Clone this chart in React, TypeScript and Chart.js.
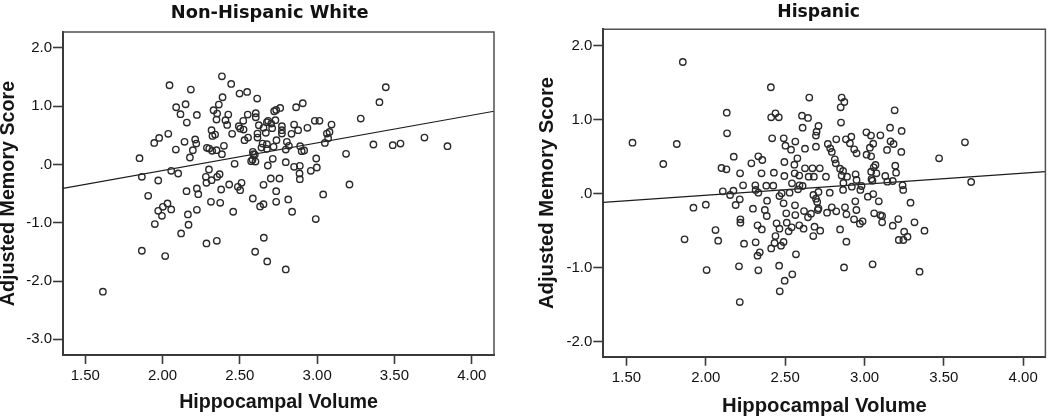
import React, { useEffect, useRef } from 'react';
import { Chart, registerables } from 'chart.js';

Chart.register(...registerables);

// ---------- DATA ----------
const panelTitles = ['Non-Hispanic White', 'Hispanic'];
const xAxisTitle = 'Hippocampal Volume';
const yAxisTitle = 'Adjusted Memory Score';

const xTickValues = [1.5, 2, 2.5, 3, 3.5, 4];
const xTickLabels = ['1.50', '2.00', '2.50', '3.00', '3.50', '4.00'];
const leftYTickValues = [-3, -2, -1, 0, 1, 2];
const leftYTickLabels = ['-3.0', '-2.0', '-1.0', '.0', '1.0', '2.0'];
const rightYTickValues = [-2, -1, 0, 1, 2];
const rightYTickLabels = ['-2.0', '-1.0', '.0', '1.0', '2.0'];

// Non-Hispanic White
const whiteVolume = [
  2.384, 2.444, 2.045, 3.444, 2.183, 2.547, 2.498, 2.612, 2.388, 3.403,
  2.907, 2.149, 2.364, 2.088, 2.864, 2.761, 2.735, 2.330, 2.722, 2.116,
  2.222, 2.353, 2.425, 2.551, 2.603, 2.603, 3.282, 3.015, 2.985, 2.349,
  2.407, 2.157, 2.522, 2.683, 2.730, 2.703, 2.675, 2.418, 2.493, 2.502,
  2.623, 2.653, 2.709, 2.772, 2.851, 3.093, 2.937, 2.317, 2.877, 2.524,
  2.772, 2.772, 2.668, 2.614, 2.450, 2.037, 3.063, 3.080, 2.834, 2.323,
  2.340, 2.553, 2.614, 1.978, 1.946, 2.211, 2.530, 2.737, 3.071, 3.694,
  2.142, 2.218, 2.647, 2.804, 3.050, 3.364, 3.489, 3.539, 3.843, 2.397,
  2.287, 2.302, 2.196, 2.086, 2.349, 2.321, 2.640, 2.675, 2.675, 2.718,
  2.817, 2.797, 2.890, 2.900, 2.916, 2.584, 2.588, 2.597, 2.384, 2.177,
  3.187, 2.994, 1.851, 2.713, 2.582, 2.601, 2.797, 2.466, 2.681, 2.851,
  2.888, 2.998, 2.300, 2.959, 2.056, 2.101, 2.886, 1.866, 2.280, 2.369,
  2.353, 1.972, 2.317, 2.700, 2.756, 2.888, 2.284, 2.431, 2.511, 2.487,
  3.209, 2.653, 2.502, 2.379, 2.155, 2.222, 2.231, 2.735, 1.907, 3.039,
  2.584, 2.813, 2.313, 2.373, 2.032, 2.735, 2.653, 2.631, 2.002, 2.056,
  1.972, 2.222, 2.457, 2.838, 2.164, 1.996, 2.991, 1.950, 2.168, 2.120,
  2.655, 2.351, 2.284, 1.866, 2.599, 2.017, 2.677, 2.797, 1.614, 2.573
];
const whiteMemory = [
  1.514, 1.383, 1.360, 1.326, 1.286, 1.246, 1.217, 1.131, 1.154, 1.069,
  1.051, 1.034, 1.029, 0.983, 0.983, 0.971, 0.937, 0.931, 0.914, 0.863,
  0.851, 0.874, 0.857, 0.857, 0.880, 0.811, 0.789, 0.749, 0.749, 0.771,
  0.760, 0.720, 0.749, 0.749, 0.760, 0.703, 0.726, 0.680, 0.657, 0.617,
  0.674, 0.629, 0.623, 0.657, 0.686, 0.686, 0.629, 0.589, 0.589, 0.600,
  0.589, 0.531, 0.543, 0.531, 0.526, 0.526, 0.531, 0.560, 0.526, 0.491,
  0.514, 0.463, 0.463, 0.457, 0.371, 0.429, 0.417, 0.417, 0.451, 0.463,
  0.389, 0.360, 0.360, 0.389, 0.371, 0.343, 0.331, 0.360, 0.314, 0.320,
  0.286, 0.274, 0.246, 0.257, 0.246, 0.234, 0.291, 0.269, 0.349, 0.303,
  0.320, 0.257, 0.314, 0.229, 0.240, 0.217, 0.177, 0.171, 0.177, 0.120,
  0.183, 0.103, 0.109, 0.097, 0.080, 0.051, 0.040, 0.011, -0.017, -0.040,
  -0.023, -0.051, -0.086, -0.109, -0.109, -0.154, -0.154, -0.211, -0.211, -0.166,
  -0.211, -0.274, -0.269, -0.240, -0.240, -0.251, -0.314, -0.343, -0.314, -0.383,
  -0.343, -0.349, -0.440, -0.429, -0.457, -0.411, -0.509, -0.457, -0.537, -0.514,
  -0.583, -0.600, -0.640, -0.657, -0.669, -0.640, -0.680, -0.720, -0.726, -0.771,
  -0.794, -0.777, -0.811, -0.811, -0.857, -0.880, -0.937, -1.023, -1.034, -1.183,
  -1.257, -1.309, -1.354, -1.480, -1.497, -1.571, -1.663, -1.800, -2.183, 0.057
];

// Hispanic
const hispanicVolume = [
  1.855, 2.410, 2.652, 2.856, 2.873, 2.850, 3.190, 2.132, 2.439, 2.412,
  2.460, 2.606, 2.644, 2.852, 2.610, 2.710, 3.161, 3.234, 2.134, 3.012,
  2.698, 3.100, 3.041, 2.418, 2.491, 2.694, 2.917, 2.822, 2.883, 1.538,
  3.633, 1.817, 2.564, 3.164, 3.183, 2.502, 2.769, 2.908, 3.055, 2.694,
  2.625, 3.034, 2.935, 2.784, 2.794, 2.537, 3.142, 3.232, 2.950, 3.013,
  3.042, 2.176, 2.331, 2.577, 2.356, 3.470, 2.813, 2.819, 1.732, 2.495,
  2.287, 2.558, 3.069, 3.058, 3.194, 2.099, 2.130, 2.846, 2.672, 2.718,
  2.625, 2.865, 2.216, 2.351, 2.429, 2.560, 2.495, 2.589, 2.648, 2.681,
  3.042, 3.075, 3.199, 3.131, 2.757, 2.856, 2.944, 2.890, 3.044, 3.050,
  3.144, 3.178, 3.672, 2.950, 2.867, 2.543, 2.235, 2.312, 2.381, 2.425,
  2.590, 2.610, 2.920, 2.981, 3.240, 3.244, 2.581, 2.314, 2.107, 2.174,
  2.331, 2.478, 2.528, 2.710, 2.781, 2.865, 2.974, 2.678, 2.464, 2.153,
  2.694, 3.021, 3.055, 2.702, 2.386, 2.214, 2.942, 3.090, 3.290, 2.000,
  2.188, 2.562, 2.490, 1.922, 2.297, 2.372, 2.794, 2.877, 2.710, 2.706,
  2.949, 2.619, 2.764, 2.822, 2.663, 2.507, 2.564, 2.384, 2.886, 3.061,
  3.100, 3.111, 3.111, 2.218, 2.218, 2.934, 2.988, 2.971, 3.213, 3.315,
  2.446, 2.510, 2.541, 2.644, 2.589, 2.616, 2.326, 2.353, 2.464, 2.522,
  2.685, 2.721, 2.846, 3.178, 3.378, 3.250, 2.061, 2.677, 2.439, 3.271,
  3.216, 3.245, 1.866, 2.078, 2.490, 2.886, 2.314, 2.241, 2.433, 2.474,
  2.412, 2.340, 2.326, 2.568, 2.209, 2.462, 3.051, 2.871, 2.005, 2.331,
  3.347, 2.545, 2.497, 2.466, 2.214
];
const hispanicMemory = [
  1.781, 1.439, 1.299, 1.299, 1.240, 1.168, 1.127, 1.096, 1.087, 1.033,
  1.033, 1.055, 1.024, 0.961, 0.893, 0.915, 0.893, 0.848, 0.816, 0.830,
  0.839, 0.789, 0.785, 0.749, 0.749, 0.785, 0.771, 0.735, 0.735, 0.690,
  0.694, 0.672, 0.704, 0.708, 0.672, 0.649, 0.672, 0.681, 0.676, 0.636,
  0.609, 0.622, 0.600, 0.613, 0.564, 0.595, 0.591, 0.564, 0.546, 0.528,
  0.505, 0.500, 0.505, 0.478, 0.455, 0.478, 0.464, 0.410, 0.401, 0.428,
  0.410, 0.392, 0.388, 0.356, 0.379, 0.347, 0.329, 0.338, 0.343, 0.343,
  0.343, 0.307, 0.275, 0.275, 0.284, 0.275, 0.239, 0.244, 0.230, 0.230,
  0.298, 0.275, 0.284, 0.239, 0.230, 0.244, 0.262, 0.230, 0.198, 0.176,
  0.162, 0.171, 0.158, 0.185, 0.144, 0.140, 0.113, 0.113, 0.108, 0.108,
  0.113, 0.104, 0.095, 0.104, 0.113, 0.050, 0.059, 0.050, 0.032, 0.041,
  0.014, 0.005, 0.014, 0.023, 0.014, 0.050, 0.050, -0.018, -0.032, -0.018,
  -0.068, -0.041, -0.005, -0.113, -0.095, -0.077, -0.104, -0.104, -0.122, -0.149,
  -0.153, -0.158, -0.131, -0.189, -0.203, -0.221, -0.185, -0.185, -0.198, -0.221,
  -0.221, -0.235, -0.257, -0.239, -0.270, -0.266, -0.289, -0.302, -0.280, -0.266,
  -0.289, -0.302, -0.388, -0.347, -0.392, -0.347, -0.374, -0.406, -0.343, -0.388,
  -0.401, -0.392, -0.455, -0.320, -0.428, -0.474, -0.428, -0.483, -0.474, -0.510,
  -0.447, -0.501, -0.483, -0.433, -0.501, -0.514, -0.492, -0.573, -0.573, -0.582,
  -0.627, -0.627, -0.618, -0.636, -0.654, -0.649, -0.658, -0.676, -0.667, -0.703,
  -0.740, -0.794, -0.839, -0.821, -0.983, -0.974, -0.956, -0.997, -1.033, -1.037,
  -1.055, -1.091, -1.177, -1.321, -1.466
];

// Fit lines (value at left and right edges of each plot)
const whiteFitVolume = [1.356, 4.144];
const whiteFitMemory = [-0.411, 0.914];
const hispanicFitVolume = [1.354, 4.14];
const hispanicFitMemory = [-0.117, 0.298];

// ---------- LAYOUT ----------
const FONT = '"Liberation Sans", Arial, sans-serif';
const H = 420;

type Panel = {
  canvasLeft: number; width: number;
  area: { left: number; right: number; top: number; bottom: number };
  xMin: number; xMax: number; yMin: number; yMax: number;
  titleX: number; titleBaseline: number; titleSize: number;
  yTitlePad: number; xTitlePad: number; axisTitleSize: number; xLabelPad: number;
};

const panels: Panel[] = [
  {
    canvasLeft: 0, width: 530,
    area: { left: 63, right: 494, top: 32, bottom: 355 },
    xMin: 1.356, xMax: 4.144, yMin: -3.269, yMax: 2.274,
    titleX: 269.7, titleBaseline: 18, titleSize: 17.8,
    yTitlePad: -3.3, xTitlePad: 5.6, axisTitleSize: 19.7, xLabelPad: 3,
  },
  {
    canvasLeft: 530, width: 520,
    area: { left: 73.3, right: 518.3, top: 29.3, bottom: 356.7 },
    xMin: 1.354, xMax: 4.14, yMin: -2.205, yMax: 2.223,
    titleX: 288.7, titleBaseline: 17, titleSize: 17.2,
    yTitlePad: 5, xTitlePad: 1.7, axisTitleSize: 20.3, xLabelPad: 3.3,
  },
];

const boxPlugin = {
  id: 'boxPlugin',
  afterDraw(chart: any) {
    const { ctx, chartArea } = chart;
    ctx.save();
    ctx.strokeStyle = '#505050';
    ctx.lineWidth = 1.5;
    ctx.beginPath();
    ctx.moveTo(chartArea.left, chartArea.top);
    ctx.lineTo(chartArea.right, chartArea.top);
    ctx.lineTo(chartArea.right, chartArea.bottom);
    ctx.stroke();
    ctx.restore();
  },
};

const panelTitlePlugin = {
  id: 'panelTitle',
  afterDraw(chart: any, _args: any, opts: any) {
    const ctx = chart.ctx;
    ctx.save();
    ctx.font = `bold ${opts.size}px "DejaVu Sans", sans-serif`;
    ctx.fillStyle = '#111111';
    ctx.textAlign = 'center';
    ctx.textBaseline = 'alphabetic';
    ctx.fillText(opts.text, opts.x, opts.y);
    ctx.restore();
  },
};

function buildConfig(
  p: Panel, title: string, xs: number[], ys: number[], fx: number[], fy: number[],
  yTickVals: number[], yTickLabs: string[]
): any {
  const points = xs.map((x, i) => ({ x, y: ys[i] }));
  const fit = fx.map((x, i) => ({ x, y: fy[i] }));
  return {
    type: 'scatter',
    data: {
      datasets: [
        {
          type: 'line', data: fit, borderColor: '#1c1c1c', borderWidth: 1.2,
          pointRadius: 0, fill: false, tension: 0, order: 2,
        },
        {
          type: 'scatter', data: points, pointRadius: 3.2, pointHoverRadius: 3.2,
          pointBorderWidth: 1.4, borderColor: '#2a2a2a', backgroundColor: 'rgba(0,0,0,0)',
          order: 1,
        },
      ],
    },
    options: {
      responsive: false, animation: false, events: [],
      layout: { padding: { left: 0, top: p.area.top, right: p.width - p.area.right, bottom: 0 } },
      plugins: {
        legend: { display: false }, tooltip: { enabled: false }, title: { display: false },
        panelTitle: { text: title, x: p.titleX, y: p.titleBaseline, size: p.titleSize },
      },
      scales: {
        x: {
          type: 'linear', position: 'bottom', min: p.xMin, max: p.xMax,
          afterBuildTicks: (s: any) => { s.ticks = xTickValues.map((v) => ({ value: v })); },
          afterFit: (s: any) => { s.height = H - p.area.bottom; },
          ticks: {
            callback: (v: number) => { const i = xTickValues.indexOf(v); return i >= 0 ? xTickLabels[i] : ''; },
            font: { family: FONT, size: 15 }, color: '#111111', padding: p.xLabelPad,
            maxRotation: 0, minRotation: 0, autoSkip: false,
          },
          grid: { drawOnChartArea: false, drawTicks: true, tickLength: 9, tickColor: '#3a3a3a', tickWidth: 1.6 },
          border: { display: true, color: '#3a3a3a', width: 2 },
          title: {
            display: true, text: xAxisTitle, color: '#151515',
            font: { family: FONT, size: p.axisTitleSize, weight: 'bold', lineHeight: 1.2 },
            padding: { top: 0, bottom: p.xTitlePad },
          },
        },
        y: {
          type: 'linear', position: 'left', min: p.yMin, max: p.yMax,
          afterBuildTicks: (s: any) => { s.ticks = yTickVals.map((v) => ({ value: v })); },
          afterFit: (s: any) => { s.width = p.area.left; },
          ticks: {
            callback: (v: number) => { const i = yTickVals.indexOf(v); return i >= 0 ? yTickLabs[i] : ''; },
            font: { family: FONT, size: 15 }, color: '#111111', padding: 1, autoSkip: false,
          },
          grid: { drawOnChartArea: false, drawTicks: true, tickLength: 10, tickColor: '#3a3a3a', tickWidth: 1.6 },
          border: { display: true, color: '#3a3a3a', width: 2 },
          title: {
            display: true, text: yAxisTitle, color: '#151515',
            font: { family: FONT, size: p.axisTitleSize, weight: 'bold', lineHeight: 1.2 },
            padding: { top: p.yTitlePad, bottom: 0 },
          },
        },
      },
    },
    plugins: [boxPlugin, panelTitlePlugin],
  };
}

export default function App() {
  const leftRef = useRef<HTMLCanvasElement>(null);
  const rightRef = useRef<HTMLCanvasElement>(null);

  useEffect(() => {
    document.body.style.margin = '0';
    const charts: Chart[] = [];
    if (leftRef.current) {
      charts.push(new Chart(leftRef.current, buildConfig(
        panels[0], panelTitles[0], whiteVolume, whiteMemory, whiteFitVolume, whiteFitMemory,
        leftYTickValues, leftYTickLabels)));
    }
    if (rightRef.current) {
      charts.push(new Chart(rightRef.current, buildConfig(
        panels[1], panelTitles[1], hispanicVolume, hispanicMemory, hispanicFitVolume, hispanicFitMemory,
        rightYTickValues, rightYTickLabels)));
    }
    return () => charts.forEach((c) => c.destroy());
  }, []);

  return (
    <div style={{ position: 'relative', width: 1050, height: H, background: '#ffffff', overflow: 'hidden' }}>
      <canvas
        ref={leftRef} width={panels[0].width} height={H}
        style={{ position: 'absolute', left: panels[0].canvasLeft, top: 0, width: panels[0].width, height: H }}
      />
      <canvas
        ref={rightRef} width={panels[1].width} height={H}
        style={{ position: 'absolute', left: panels[1].canvasLeft, top: 0, width: panels[1].width, height: H }}
      />
    </div>
  );
}
